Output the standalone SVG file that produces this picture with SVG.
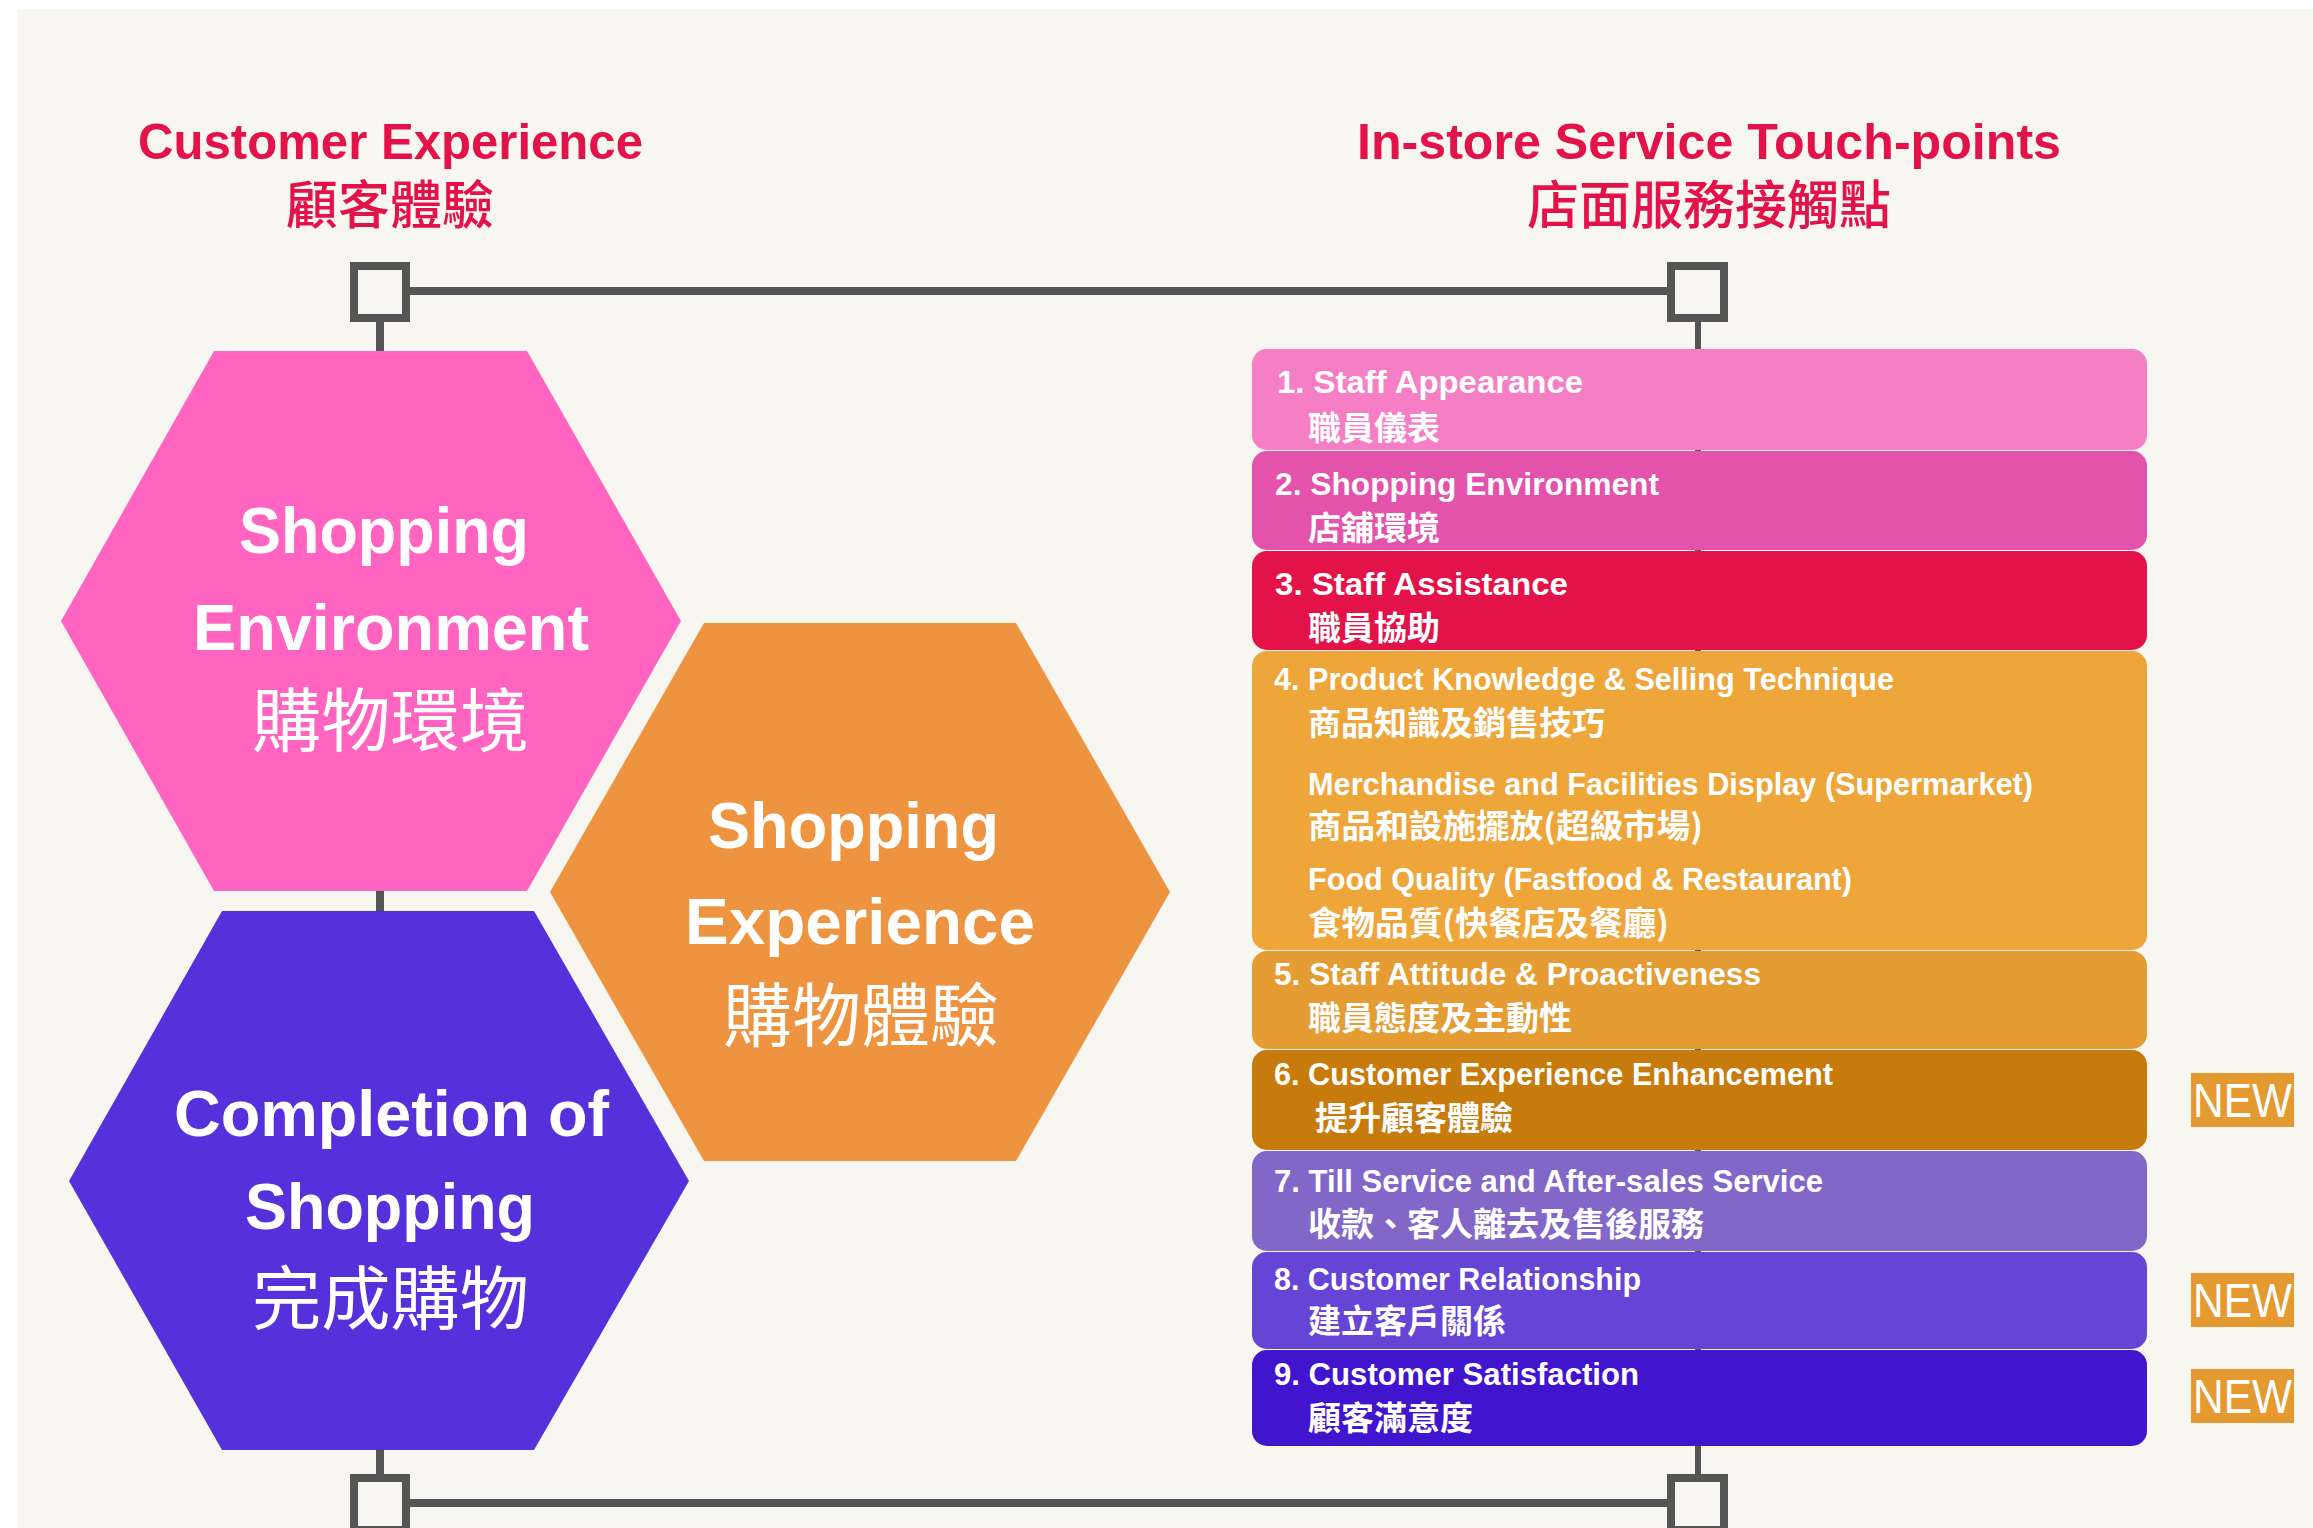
<svg xmlns="http://www.w3.org/2000/svg" width="2313" height="1528" viewBox="0 0 2313 1528">
<defs>
<style>
.bg{fill:#F7F6F0}
.conn{stroke:#555555;stroke-width:8;fill:none}
.sq{stroke:#555555;stroke-width:8;fill:#F7F6F0}
.title{font-family:"Liberation Sans",Arial,sans-serif;font-weight:700;font-size:50px;fill:#E3134A}
.titlecjk{font-family:"Noto Sans CJK TC","Noto Sans CJK SC",sans-serif;font-weight:500;font-size:52px;fill:#E3134A;text-anchor:middle}
.hex{font-family:"Liberation Sans",Arial,sans-serif;font-weight:700;font-size:65px;fill:#FFFFFF}
.hexcjk{font-family:"Noto Sans CJK TC","Noto Sans CJK SC",sans-serif;font-weight:400;font-size:69px;fill:#FFFFFF}
.en{font-family:"Liberation Sans",Arial,sans-serif;font-weight:700;font-size:32px;fill:#FFFFFF}
.cjk{font-family:"Noto Sans CJK TC","Noto Sans CJK SC",sans-serif;font-weight:700;font-size:33px;fill:#FFFFFF}
.badge{fill:#E49A30}
.new{font-family:"Liberation Sans",Arial,sans-serif;font-weight:400;font-size:48px;fill:#FFFFFF}
</style>
</defs>
<rect x="0" y="0" width="2313" height="1528" fill="#FFFFFF"/>
<rect class="bg" x="18" y="9" width="2295" height="1519"/>

<g id="titles">
<text class="title" x="138" y="159" textLength="505" lengthAdjust="spacingAndGlyphs">Customer Experience</text>
<text class="titlecjk" x="390" y="224">顧客體驗</text>
<text class="title" x="1357" y="159" textLength="704" lengthAdjust="spacingAndGlyphs">In-store Service Touch-points</text>
<text class="titlecjk" x="1709" y="224">店面服務接觸點</text>
</g>

<g id="connectors">
<line class="conn" x1="410" y1="291" x2="1667" y2="291"/>
<line class="conn" x1="410" y1="1503" x2="1667" y2="1503"/>
<line class="conn" x1="380" y1="322" x2="380" y2="360"/>
<line class="conn" x1="380" y1="880" x2="380" y2="920"/>
<line class="conn" x1="380" y1="1440" x2="380" y2="1474"/>
<line class="conn" x1="1698" y1="322" x2="1698" y2="1474" style="stroke-width:6"/>
<rect class="sq" x="354" y="266" width="52" height="52"/>
<rect class="sq" x="1671" y="266" width="53" height="52"/>
<rect class="sq" x="354" y="1478" width="52" height="52"/>
<rect class="sq" x="1671" y="1478" width="53" height="52"/>
</g>

<g id="hex-shopping-environment">
<polygon points="214,351 527,351 681,621 527,891 214,891 61,621" fill="#FF64C0"/>
<text class="hex" x="239" y="553" textLength="290" lengthAdjust="spacingAndGlyphs">Shopping</text>
<text class="hex" x="193" y="650" textLength="396" lengthAdjust="spacingAndGlyphs">Environment</text>
<text class="hexcjk" x="252" y="746" textLength="277" lengthAdjust="spacingAndGlyphs">購物環境</text>
</g>

<g id="hex-shopping-experience">
<polygon points="704,623 1016,623 1170,892 1016,1161 704,1161 550,892" fill="#EE9441"/>
<text class="hex" x="708" y="848" textLength="291" lengthAdjust="spacingAndGlyphs">Shopping</text>
<text class="hex" x="685" y="944" textLength="350" lengthAdjust="spacingAndGlyphs">Experience</text>
<text class="hexcjk" x="723" y="1041" textLength="276" lengthAdjust="spacingAndGlyphs">購物體驗</text>
</g>

<g id="hex-completion">
<polygon points="222,911 534,911 689,1181 534,1450 222,1450 69,1181" fill="#5631DB"/>
<text class="hex" x="174" y="1136" textLength="435" lengthAdjust="spacingAndGlyphs">Completion of</text>
<text class="hex" x="245" y="1229" textLength="290" lengthAdjust="spacingAndGlyphs">Shopping</text>
<text class="hexcjk" x="252" y="1324" textLength="277" lengthAdjust="spacingAndGlyphs">完成購物</text>
</g>

<g id="tp1">
<rect x="1252" y="349" width="895" height="101" rx="15" fill="#F57EC5"/>
<text class="en" x="1277" y="393" textLength="306" lengthAdjust="spacingAndGlyphs">1. Staff Appearance</text>
<text class="cjk" x="1308" y="440">職員儀表</text>
</g>
<g id="tp2">
<rect x="1252" y="451" width="895" height="99" rx="15" fill="#E353AB"/>
<text class="en" x="1275" y="495" textLength="384" lengthAdjust="spacingAndGlyphs">2. Shopping Environment</text>
<text class="cjk" x="1308" y="540">店舖環境</text>
</g>
<g id="tp3">
<rect x="1252" y="551" width="895" height="99" rx="15" fill="#E31248"/>
<text class="en" x="1275" y="595" textLength="293" lengthAdjust="spacingAndGlyphs">3. Staff Assistance</text>
<text class="cjk" x="1308" y="640">職員協助</text>
</g>
<g id="tp4">
<rect x="1252" y="651" width="895" height="299" rx="15" fill="#EEA63A"/>
<text class="en" x="1274" y="690" textLength="620" lengthAdjust="spacingAndGlyphs">4. Product Knowledge &amp; Selling Technique</text>
<text class="cjk" x="1308" y="735">商品知識及銷售技巧</text>
<text class="en" x="1308" y="795" textLength="725" lengthAdjust="spacingAndGlyphs">Merchandise and Facilities Display (Supermarket)</text>
<text class="cjk" x="1308" y="838" textLength="395" lengthAdjust="spacingAndGlyphs">商品和設施擺放(超級市場)</text>
<text class="en" x="1308" y="890" textLength="544" lengthAdjust="spacingAndGlyphs">Food Quality (Fastfood &amp; Restaurant)</text>
<text class="cjk" x="1308" y="935" textLength="361" lengthAdjust="spacingAndGlyphs">食物品質(快餐店及餐廳)</text>
</g>
<g id="tp5">
<rect x="1252" y="951" width="895" height="98" rx="15" fill="#E49C33"/>
<text class="en" x="1274" y="985" textLength="487" lengthAdjust="spacingAndGlyphs">5. Staff Attitude &amp; Proactiveness</text>
<text class="cjk" x="1308" y="1030">職員態度及主動性</text>
</g>
<g id="tp6">
<rect x="1252" y="1050" width="895" height="100" rx="15" fill="#C77B0C"/>
<text class="en" x="1274" y="1085" textLength="559" lengthAdjust="spacingAndGlyphs">6. Customer Experience Enhancement</text>
<text class="cjk" x="1315" y="1130">提升顧客體驗</text>
</g>
<g id="tp7">
<rect x="1252" y="1151" width="895" height="100" rx="15" fill="#8267C9"/>
<text class="en" x="1274" y="1192" textLength="549" lengthAdjust="spacingAndGlyphs">7. Till Service and After-sales Service</text>
<text class="cjk" x="1308" y="1236">收款、客人離去及售後服務</text>
</g>
<g id="tp8">
<rect x="1252" y="1252" width="895" height="97" rx="15" fill="#6644D6"/>
<text class="en" x="1274" y="1290" textLength="367" lengthAdjust="spacingAndGlyphs">8. Customer Relationship</text>
<text class="cjk" x="1308" y="1333">建立客戶關係</text>
</g>
<g id="tp9">
<rect x="1252" y="1350" width="895" height="96" rx="15" fill="#4114CE"/>
<text class="en" x="1274" y="1385" textLength="365" lengthAdjust="spacingAndGlyphs">9. Customer Satisfaction</text>
<text class="cjk" x="1308" y="1430">顧客滿意度</text>
</g>

<g id="badge6">
<rect class="badge" x="2191" y="1073" width="103" height="54"/>
<text class="new" x="2193" y="1117" textLength="99" lengthAdjust="spacingAndGlyphs">NEW</text>
</g>
<g id="badge8">
<rect class="badge" x="2191" y="1273" width="103" height="54"/>
<text class="new" x="2193" y="1317" textLength="99" lengthAdjust="spacingAndGlyphs">NEW</text>
</g>
<g id="badge9">
<rect class="badge" x="2191" y="1369" width="103" height="54"/>
<text class="new" x="2193" y="1413" textLength="99" lengthAdjust="spacingAndGlyphs">NEW</text>
</g>
</svg>
